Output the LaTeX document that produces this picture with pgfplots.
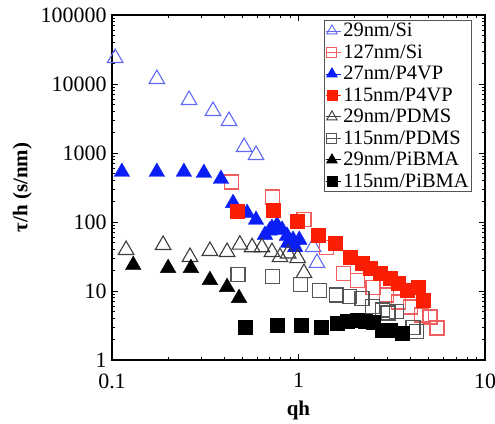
\documentclass[border=0pt]{standalone}
\usepackage{fontspec}
\setmainfont{Liberation Serif}
\usepackage{pgfplots}
\pgfplotsset{compat=1.18}
\usetikzlibrary{calc}
\definecolor{siblue}{RGB}{95,105,245}
\definecolor{sired}{RGB}{240,95,95}
\definecolor{pblue}{RGB}{10,30,245}
\definecolor{pred}{RGB}{250,30,5}
\definecolor{dgrey}{RGB}{60,60,60}
\definecolor{mgrey}{RGB}{85,85,85}
\begin{document}
\begin{tikzpicture}
\begin{axis}[name=ax,
  scale only axis, width=373bp, height=345bp,
  xmode=log, ymode=log,
  xmin=0.1, xmax=10, ymin=1, ymax=100000,
  xtick={0.1,1,10}, xticklabels={0.1,1,10},
  ytick={1,10,100,1000,10000,100000},
  yticklabels={1,10,100,1000,10000,100000},
  /pgf/number format/assume math mode=true,
  tick align=inside,
  major tick length=6bp, minor tick length=3.5bp,
  every tick/.style={black, line width=0.8bp},
  axis line style={line width=1.6bp},
  tick label style={font=\fontsize{22}{26}\selectfont},
  xticklabel style={yshift=-10bp},
  yticklabel style={xshift=-2bp},
  xlabel={\textbf{qh}}, ylabel={\textbf{τ/h (s/nm)}},
  label style={font=\fontsize{21}{25}\selectfont},
  xlabel style={yshift=-6bp},
  ylabel style={yshift=2bp},
  legend style={at={(0.965,0.9855)}, anchor=north east, draw=mgrey, line width=0.8bp,
    font=\fontsize{20.5}{24}\selectfont, row sep=2.5bp, inner xsep=1bp, inner ysep=1bp},
  legend cell align=left,
  legend image code/.code={\path (0bp,0bp) rectangle (15bp,0bp); \draw[#1] plot coordinates {(6bp,0bp)};},
  every axis plot/.append style={only marks},
]
\addplot[mark=triangle, mark size=9bp, siblue, mark options={line width=1.1bp}, legend image post style={mark size=6bp, mark options={line width=0.9bp}}]
 coordinates {(0.104,23800)(0.174,11800)(0.259,5860)(0.348,4060)(0.424,2910)(0.511,1220)(0.592,935)(1.197,43.4)(1.256,25.5)(0.93,50)};
\addlegendentry{29nm/Si}
\addplot[mark=square, mark size=7bp, sired, mark options={line width=1.1bp}, legend image post style={mark size=5bp, mark options={line width=0.9bp}}]
 coordinates {(0.435,380)(0.729,230)(1.07,110)(1.42,43)(1.75,18.2)(2.08,14.4)(2.51,11.4)(2.98,8.75)(3.42,6.93)(3.97,5.86)(4.59,4.49)(5.07,4.2)(5.53,2.91)};
\addlegendentry{127nm/Si}
\addplot[mark=triangle*, mark size=9bp, pblue, legend image post style={mark size=6bp}]
 coordinates {(0.113,531)(0.174,531)(0.243,531)(0.311,513)(0.384,420)(0.446,188)(0.530,135)(0.592,107)(0.661,65)(0.70,75)(0.721,82)(0.767,90)(0.817,77)(0.868,63)(0.88,50)(0.935,55)(1.01,55)(0.96,43)};
\addlegendentry{27nm/P4VP}
\addplot[mark=square*, mark size=7bp, pred, legend image post style={mark size=5bp}]
 coordinates {(0.468,144)(0.729,149)(0.99,104)(1.27,65)(1.57,50)(1.89,31)(2.19,25.5)(2.42,21.5)(2.73,18.2)(3.09,15.4)(3.42,13)(3.82,10.3)(4.38,11.4)(4.66,7.4)};
\addlegendentry{115nm/P4VP}
\addplot[mark=triangle, mark size=9bp, dgrey, mark options={line width=1.1bp}, legend image post style={mark size=6bp, mark options={line width=0.9bp}}]
 coordinates {(0.119,39.3)(0.188,46.4)(0.262,31.1)(0.335,38)(0.414,36.7)(0.485,47)(0.564,43)(0.637,43)(0.721,36.7)(0.796,31)(0.88,35)(0.99,30)(1.07,18.2)};
\addlegendentry{29nm/PDMS}
\addplot[mark=square, mark size=7bp, mgrey, mark options={line width=1.1bp}, legend image post style={mark size=5bp, mark options={line width=0.9bp}}]
 coordinates {(0.474,17.1)(0.729,16)(1.02,12.6)(1.30,10.3)(1.59,8.75)(1.87,8.2)(2.19,7.9)(2.48,5.9)(2.81,5.3)(3.02,4.8)(3.37,5.0)(4.11,3.0)(4.3,2.6)};
\addlegendentry{115nm/PDMS}
\addplot[mark=triangle*, mark size=9bp, black, legend image post style={mark size=6bp}]
 coordinates {(0.130,23.8)(0.200,21.5)(0.265,21.5)(0.335,14.4)(0.414,11.4)(0.480,7.9)};
\addlegendentry{29nm/PiBMA}
\addplot[mark=square*, mark size=7bp, black, legend image post style={mark size=5bp}]
 coordinates {(0.516,3.0)(0.767,3.2)(1.04,3.2)(1.32,3.0)(1.61,3.44)(1.82,3.67)(2.06,3.8)(2.28,3.7)(2.51,3.5)(2.81,2.72)(3.09,2.72)(3.59,2.46)};
\addlegendentry{115nm/PiBMA}
\end{axis}
\pgfresetboundingbox
\path[use as bounding box] ($(ax.south west)+(-112bp,-64bp)$) rectangle ($(ax.north east)+(10bp,15bp)$);
\end{tikzpicture}
\end{document}
